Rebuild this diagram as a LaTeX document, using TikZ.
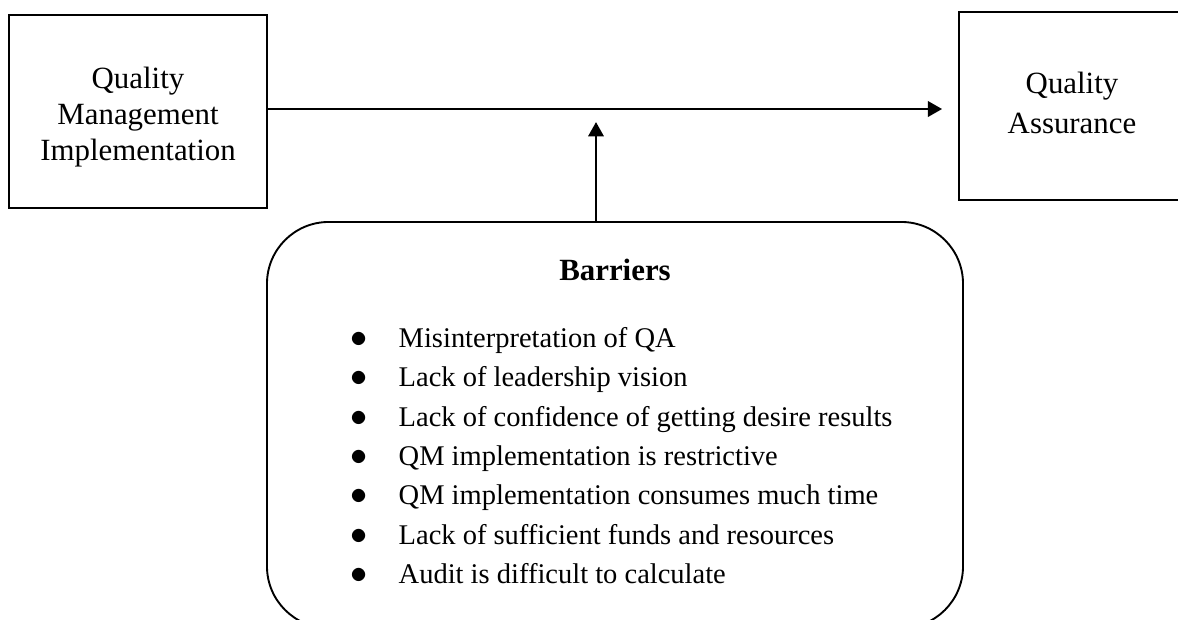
\documentclass[tikz,border=0pt]{standalone}
\usepackage{fontspec}
\setmainfont{Liberation Serif}
\usetikzlibrary{arrows.meta}
\newcommand{\bul}{\makebox[6pt]{\fontsize{15}{15}\selectfont$\bullet$}}

\begin{document}
\begin{tikzpicture}[x=0.4211pt, y=-0.4211pt,
						box/.style={rectangle, draw, line width=0.8pt, inner sep=0pt},
						boxtext/.style={align=center, inner sep=0pt, anchor=base},
						every path/.style={>={Triangle[length=6pt, width=6.5pt]}}]
					\clip (0,0) rectangle (1178,619);
					\node[box, minimum width=108.6pt, minimum height=81.3pt] (QM) at (138,111.5) {};
					\node[box, minimum width=95.2pt, minimum height=79.2pt] (QA) at (1072,106) {};
					\node[box, rounded corners=26pt, minimum width=293.1pt, minimum height=171pt] (B) at (615,425) {};

					% last line sits on the base anchor
					\node[boxtext, font=\fontsize{13}{15}\selectfont] (QMtext) at (138,160) {Quality\\Management\\Implementation};
					\node[boxtext, font=\fontsize{13}{16.8}\selectfont] (QAtext) at (1072,133) {Quality\\Assurance};
					\node[boxtext, font=\fontsize{13}{15}\selectfont\bfseries] (Btitle) at (615,280) {Barriers};
					\node[anchor=base west, inner sep=0pt, font=\fontsize{12}{16.63}\selectfont] (Blist) at (351,347) {%
						\begin{tabular}[t]{@{}l@{\hspace{13.9pt}}l@{}}
						\bul & Misinterpretation of QA\\
						\bul & Lack of leadership vision\\
						\bul & Lack of confidence of getting desire results\\
						\bul & QM implementation is restrictive\\
						\bul & QM implementation consumes much time\\
						\bul & Lack of sufficient funds and resources\\
						\bul & Audit is difficult to calculate
						\end{tabular}};

					\coordinate (J) at (596,109);
					\path [->, line width=1.1pt] (QM.east |- J) edge [shorten >=6.7pt] (QA.west |- J);
					\path [->, line width=0.8pt] (B.north -| J) edge [shorten >=5.5pt] (J);
				\end{tikzpicture}
\end{document}
